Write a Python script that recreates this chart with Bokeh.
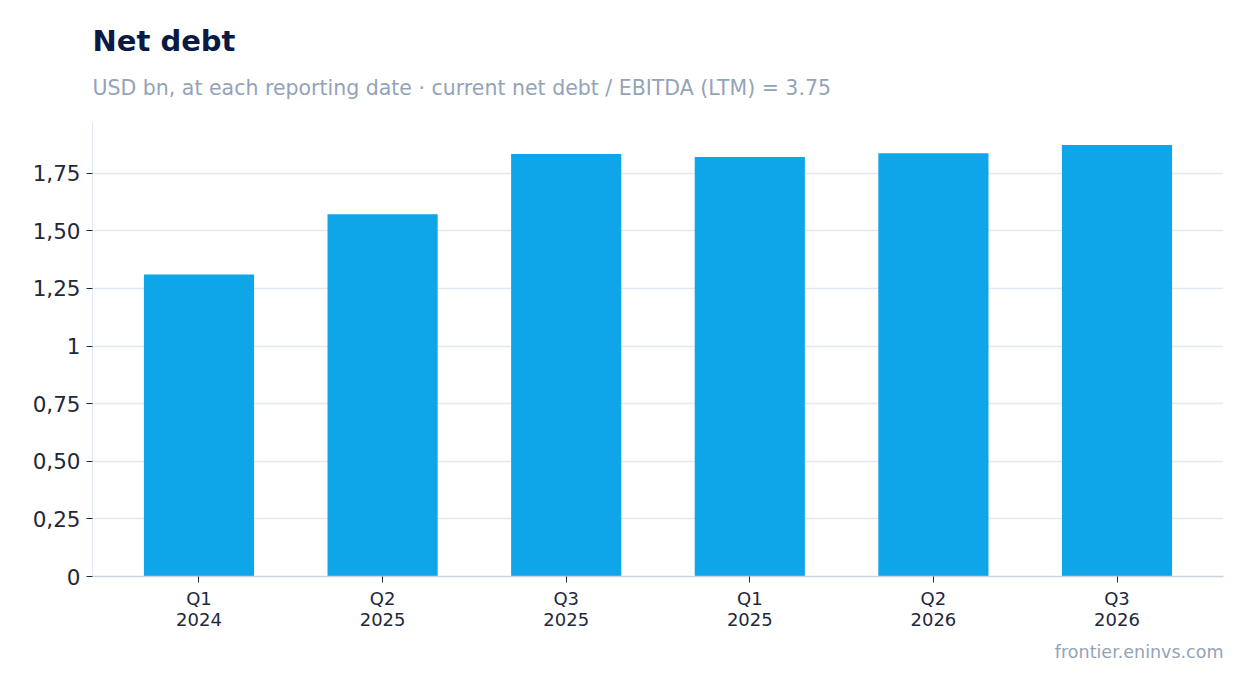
from bokeh.plotting import figure
from bokeh.models import Title, Range1d, FactorRange, FixedTicker, CustomJSTickFormatter, ColumnDataSource
from bokeh.embed import file_html
from bokeh.resources import INLINE

periods = ["Q1\n2024", "Q2\n2025", "Q3\n2025", "Q1\n2025", "Q2\n2026", "Q3\n2026"]
net_debt = [1.31, 1.572, 1.833, 1.82, 1.837, 1.872]
y_ticks = [0, 0.25, 0.5, 0.75, 1.0, 1.25, 1.5, 1.75]

title_text = "Net debt"
subtitle_text = "USD bn, at each reporting date \u00b7 current net debt / EBITDA (LTM) = 3.75"
footer_text = "frontier.eninvs.com"

src = ColumnDataSource(data=dict(period=periods, value=net_debt))

p = figure(width=1238, height=676, output_backend="svg", toolbar_location=None,
           x_range=FactorRange(factors=periods, range_padding=0.08, range_padding_units="absolute"),
           y_range=Range1d(0, 1.97), title=None,
           min_border_left=92, min_border_right=15, min_border_top=122, min_border_bottom=100)

p.vbar(x="period", top="value", width=0.6, source=src, color="#0ea5e9", line_color=None)

font = "DejaVu Sans"
p.add_layout(Title(text=footer_text, align="right", text_font=font, text_font_size="17.5px",
                   text_color="#94a3b8", text_font_style="normal", standoff=14), "below")
p.add_layout(Title(text=subtitle_text, align="left", text_font=font, text_font_size="20.5px",
                   text_color="#94a3b8", text_font_style="normal", standoff=46), "above")
p.add_layout(Title(text=title_text, align="left", text_font=font, text_font_size="29px",
                   text_color="#0b1a42", text_font_style="bold", standoff=-14), "above")

p.outline_line_color = None
p.xgrid.grid_line_color = None
p.ygrid.grid_line_color = "#e2e8f0"
p.ygrid.grid_line_width = 1.5

p.yaxis.ticker = FixedTicker(ticks=y_ticks)
p.yaxis.formatter = CustomJSTickFormatter(code="""
if (Math.abs(tick - Math.round(tick)) < 1e-9) return String(Math.round(tick));
return tick.toFixed(2).replace('.', ',');
""")
p.yaxis.axis_line_color = "#e2e8f0"
p.yaxis.major_tick_line_color = "#1e293b"
p.yaxis.major_tick_out = 6
p.yaxis.major_tick_in = 0
p.yaxis.minor_tick_line_color = None
p.yaxis.major_label_text_font = font
p.yaxis.major_label_text_font_size = "21.5px"
p.yaxis.major_label_text_color = "#1e293b"
p.yaxis.major_label_standoff = 6

p.xaxis.axis_line_color = "#cbd5e1"
p.xaxis.axis_line_width = 1.5
p.xaxis.major_tick_line_color = "#1e293b"
p.xaxis.major_tick_out = 6
p.xaxis.major_tick_in = 0
p.xaxis.minor_tick_line_color = None
p.xaxis.major_label_text_font = font
p.xaxis.major_label_text_font_size = "18px"
p.xaxis.major_label_text_line_height = 1.0
p.xaxis.major_label_text_color = "#1e293b"
p.xaxis.major_label_standoff = 5

open("out.html", "w").write(file_html(p, INLINE))
